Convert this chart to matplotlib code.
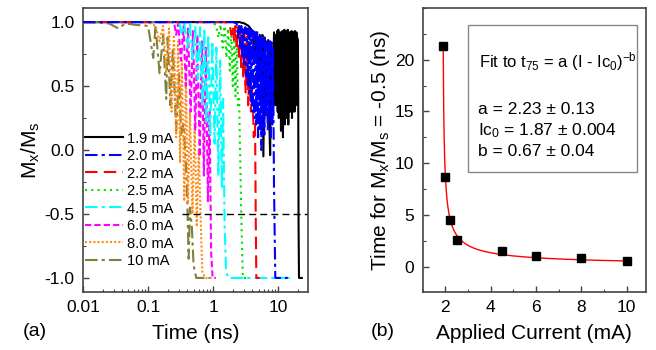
import numpy as np
import matplotlib
matplotlib.use('Agg')
import matplotlib.pyplot as plt
from matplotlib.ticker import MultipleLocator, LogLocator, NullFormatter

plt.rcParams['font.family'] = ['Liberation Sans', 'DejaVu Sans']
plt.rcParams['mathtext.fontset'] = 'custom'
plt.rcParams['mathtext.rm'] = 'Liberation Sans'
plt.rcParams['mathtext.it'] = 'Liberation Sans'
plt.rcParams['axes.unicode_minus'] = False

# ---- panel (a): Mx/Ms vs time, turning points ----
labels_a = ['1.9 mA', '2.0 mA', '2.2 mA', '2.5 mA', '4.5 mA', '6.0 mA', '8.0 mA', '10 mA']

t_19 = [0.01, 1.0, 2.5, 3.0, 3.5, 4.0, 4.3, 4.6, 4.9, 5.2, 5.5, 5.7, 5.9, 6.2, 6.6, 7.0, 7.3, 7.5,
        7.8, 8.2, 8.6,
        9.0, 9.2, 9.4, 9.6, 9.8, 10.0, 10.2, 10.4, 10.6, 10.8,
        11.0, 11.2, 11.4, 11.6, 11.8, 12.0, 12.2, 12.4, 12.6, 12.8,
        13.0, 13.2, 13.4, 13.6, 13.8, 14.0, 14.25, 14.5, 14.75, 15.0,
        15.25, 15.5, 15.75, 16.0, 16.25, 16.5, 16.75, 17.0, 17.25, 17.5,
        17.75, 18.0, 18.25, 18.5, 18.75, 19.0, 19.25, 19.5, 19.75, 20.0,
        20.2, 20.5, 20.8, 23.0]
m_19 = [1.0, 1.0, 1.0, 0.99, 0.97, 0.93, 0.75, 0.92, 0.55, 0.9, 0.3, 0.9, -0.05, 0.88, 0.35, 0.86,
        0.2, -0.04, 0.82, 0.3, 0.92,
        0.35, 0.9, 0.4, 0.93, 0.3, 0.94, 0.25, 0.9, 0.35, 0.92,
        0.15, 0.9, 0.3, 0.93, 0.1, 0.9, 0.3, 0.94, 0.2, 0.92,
        0.35, 0.9, 0.25, 0.93, 0.3, 0.94, 0.2, 0.9, 0.35, 0.92,
        0.3, 0.9, 0.4, 0.93, 0.25, 0.9, 0.3, 0.92, 0.35, 0.9,
        0.3, 0.93, 0.4, 0.9, 0.35, 0.92, 0.45, 0.88, 0.5, 0.86,
        0.55, -0.6, -1.0, -1.0]

t_20 = [0.01, 2.0, 2.3, 2.4, 2.5, 2.6, 2.7, 2.8, 2.9, 3.0, 3.1, 3.2, 3.3, 3.4, 3.5, 3.6, 3.7, 3.8,
        3.9, 4.0, 4.15, 4.3, 4.45, 4.6, 4.75, 4.9, 5.05, 5.2, 5.35, 5.5, 5.65, 5.8, 5.95, 6.1,
        6.3, 6.5, 6.7, 6.9, 7.1, 7.3, 7.5, 7.7, 7.9, 8.1, 8.3, 8.6, 9.0, 14.0]
m_20 = [1.0, 1.0, 0.99, 0.88, 0.97, 0.8, 0.97, 0.72, 0.96, 0.65, 0.96, 0.58, 0.95, 0.5, 0.95,
        0.45, 0.94, 0.38, 0.94, 0.3, 0.93, 0.25, 0.92, 0.2, 0.92, 0.1, 0.9, 0.15, 0.9, 0.0, 0.88,
        0.2, 0.88, 0.1, 0.86, 0.25, 0.85, 0.15, 0.86, 0.25, 0.85, 0.1, 0.84, 0.2, 0.8, -0.3, -1.0, -1.0]

t_22 = [0.01, 1.5, 1.8, 1.9, 2.0, 2.1, 2.2, 2.3, 2.4, 2.5, 2.6, 2.7, 2.8, 2.9, 3.0, 3.15, 3.3,
        3.45, 3.6, 3.8, 4.0, 4.2, 4.4, 4.5, 4.6, 5.2]
m_22 = [1.0, 1.0, 0.98, 0.9, 0.97, 0.85, 0.97, 0.78, 0.96, 0.7, 0.95, 0.62, 0.95, 0.55, 0.93, 0.45,
        0.9, 0.35, 0.6, 0.3, 0.5, 0.1, 0.2, -0.5, -1.0, -1.0]

t_25 = [0.01, 0.9, 1.1, 1.2, 1.3, 1.4, 1.5, 1.6, 1.7, 1.8, 1.9, 2.0, 2.1, 2.2, 2.3, 2.4, 2.5,
        2.7, 2.85, 3.3]
m_25 = [1.0, 1.0, 0.98, 0.88, 0.98, 0.8, 0.97, 0.72, 0.95, 0.62, 0.92, 0.5, 0.9, 0.42, 0.85,
        0.35, 0.4, -0.5, -1.0, -1.0]

t_45 = [0.01, 0.3, 0.33, 0.36, 0.4, 0.44, 0.48, 0.53, 0.58, 0.63, 0.68, 0.73, 0.78, 0.84, 0.9,
        0.97, 1.05, 1.12, 1.2, 1.28, 1.36, 1.42, 1.5, 1.58, 1.7, 15.0]
m_45 = [1.0, 1.0, 0.9, 0.99, 0.8, 0.98, 0.7, 0.97, 0.55, 0.96, 0.35, 0.95, 0.2, 0.9, 0.1, 0.85,
        0.05, 0.8, -0.2, 0.7, -0.3, 0.4, -0.6, -0.95, -1.0, -1.0]

t_60 = [0.01, 0.25, 0.27, 0.29, 0.32, 0.35, 0.38, 0.41, 0.45, 0.49, 0.53, 0.57, 0.62, 0.67, 0.72,
        0.77, 0.83, 0.88, 0.93, 0.98, 1.1]
m_60 = [1.0, 1.0, 0.9, 0.99, 0.7, 0.97, 0.5, 0.95, 0.3, 0.93, 0.15, 0.9, -0.05, 0.85, -0.2, 0.8,
        -0.4, 0.3, -0.8, -1.0, -1.0]

t_80 = [0.01, 0.1, 0.13, 0.15, 0.17, 0.19, 0.21, 0.23, 0.25, 0.27, 0.29, 0.31, 0.33, 0.36, 0.38,
        0.41, 0.44, 0.48, 0.52, 0.56, 0.6, 0.64, 0.68, 0.75, 0.95]
m_80 = [1.0, 1.0, 0.97, 0.85, 0.97, 0.6, 0.95, 0.3, 0.9, 0.1, 0.85, -0.1, 0.7, -0.4, 0.6, -0.42,
        0.3, -0.5, 0.2, -0.6, 0.0, -0.5, -0.95, -1.0, -1.0]

t_10 = [0.01, 0.025, 0.035, 0.045, 0.06, 0.1, 0.12, 0.13, 0.15, 0.17, 0.19, 0.2, 0.22, 0.24, 0.27,
        0.3, 0.32, 0.35, 0.38, 0.4, 0.42, 0.44, 0.47, 0.5, 0.55, 0.9]
m_10 = [1.0, 0.99, 0.95, 0.99, 0.98, 0.97, 0.72, 0.97, 0.6, 0.9, 0.4, 0.88, 0.35, 0.8, 0.15, 0.6,
        0.12, 0.2, -0.1, -0.4, -0.85, -0.45, -0.6, -0.9, -1.0, -1.0]

times_a = [t_19, t_20, t_22, t_25, t_45, t_60, t_80, t_10]
mags_a = [m_19, m_20, m_22, m_25, m_45, m_60, m_80, m_10]
colors_a = ['black', '#0000FF', '#FF0000', '#00DD00', '#00FFFF', '#FF00FF', '#FF8C1A', '#7F7F3A']
styles_a = ['-', (0, (6, 2, 1.5, 2)), (0, (6, 3)), (0, (1, 2)), (0, (6, 2, 1.5, 2)),
            (0, (3, 1.5)), (0, (1, 1)), (0, (6, 2, 1.5, 2))]
threshold = -0.5

# ---- panel (b): switching time vs current ----
current = [1.9, 2.0, 2.2, 2.5, 4.5, 6.0, 8.0, 10.0]
t_switch = [21.3, 8.7, 4.5, 2.6, 1.5, 1.05, 0.8, 0.55]
fit_a, fit_ic0, fit_b = 2.23, 1.87, 0.67

fig = plt.figure(figsize=(6.56, 3.5), dpi=100)
ax1 = fig.add_axes([0.1265, 0.1657, 0.343, 0.8114])
ax2 = fig.add_axes([0.6444, 0.1657, 0.34, 0.8114])

lines = []
for t, m, c, ls, lab in zip(times_a, mags_a, colors_a, styles_a, labels_a):
    ln, = ax1.plot(t, m, color=c, linestyle=ls, linewidth=1.5, label=lab)
    lines.append(ln)
# higher currents drawn underneath, 1.9 mA band sits below the 2.0 mA band
for i, ln in enumerate(lines):
    ln.set_zorder(2 + len(lines) - i)
lines[0].set_zorder(1.5)
ax1.hlines(threshold, 0.33, 28, colors='black', linestyles=(0, (5, 3)), linewidth=1.0, zorder=20)

ax1.set_xscale('log')
ax1.set_xlim(0.01, 28.6)
ax1.set_ylim(-1.11, 1.11)
ax1.set_xticks([0.01, 0.1, 1, 10])
ax1.set_xticklabels(['0.01', '0.1', '1', '10'])
ax1.xaxis.set_minor_locator(LogLocator(base=10, subs=np.arange(2, 10)))
ax1.xaxis.set_minor_formatter(NullFormatter())
ax1.set_yticks([1.0, 0.5, 0.0, -0.5, -1.0])
ax1.set_yticklabels(['1.0', '0.5', '0.0', '-0.5', '-1.0'])
ax1.yaxis.set_minor_locator(MultipleLocator(0.25))
ax1.set_xlabel('Time (ns)', fontsize=15, labelpad=6)
ax1.set_ylabel(r'M$_\mathrm{x}$/M$_\mathrm{s}$', fontsize=15, labelpad=2)
ax1.legend(loc='upper left', bbox_to_anchor=(0.01, 0.565), frameon=False, fontsize=10.5,
           handlelength=2.6, handletextpad=0.25, labelspacing=0.24, borderpad=0,
           borderaxespad=0)

ax2.plot(current, t_switch, linestyle='none', marker='s', markersize=5.5, color='black', zorder=3)
i_fit = np.linspace(1.905, 10, 400)
ax2.plot(i_fit, fit_a * (i_fit - fit_ic0) ** (-fit_b), color='#FF0000', linewidth=1.0, zorder=2)
ax2.set_xlim(1.0, 10.85)
ax2.set_ylim(-2.45, 25)
ax2.set_xticks([2, 4, 6, 8, 10])
ax2.xaxis.set_minor_locator(MultipleLocator(1))
ax2.set_yticks([0, 5, 10, 15, 20])
ax2.yaxis.set_minor_locator(MultipleLocator(2.5))
ax2.set_xlabel('Applied Current (mA)', fontsize=15, labelpad=6)
ax2.set_ylabel(r'Time for M$_\mathrm{x}$/M$_\mathrm{s}$ = -0.5 (ns)', fontsize=15, labelpad=2)

box = plt.Rectangle((0.203, 0.4236), 0.756, 0.5165, transform=ax2.transAxes, fill=False,
                    edgecolor='#888888', linewidth=1.0)
ax2.add_patch(box)
ax2.text(0.253, 0.811, r'Fit to t$_\mathrm{75}$ = a (I - Ic$_\mathrm{0}$)$^\mathrm{-b}$',
         transform=ax2.transAxes, fontsize=12, va='center')
ax2.text(0.248, 0.644, 'a = 2.23 ± 0.13', transform=ax2.transAxes, fontsize=12.5, va='center')
ax2.text(0.248, 0.568, r'Ic$_\mathrm{0}$ = 1.87 ± 0.004', transform=ax2.transAxes, fontsize=12.5,
         va='center')
ax2.text(0.248, 0.494, 'b = 0.67 ± 0.04', transform=ax2.transAxes, fontsize=12.5, va='center')

for ax in (ax1, ax2):
    for sp in ax.spines.values():
        sp.set_color('#444444')
        sp.set_linewidth(1.2)
    ax.tick_params(which='both', direction='in', top=False, right=False, labelsize=12.5,
                   color='#444444')
    ax.tick_params(which='major', length=4, width=1.0, pad=6)
    ax.tick_params(which='minor', length=2.5, width=0.8)

fig.text(35 / 656, 1 - 332 / 350, '(a)', fontsize=14, ha='center', va='center')
fig.text(383 / 656, 1 - 332 / 350, '(b)', fontsize=14, ha='center', va='center')

fig.savefig('out.png', dpi=100)
